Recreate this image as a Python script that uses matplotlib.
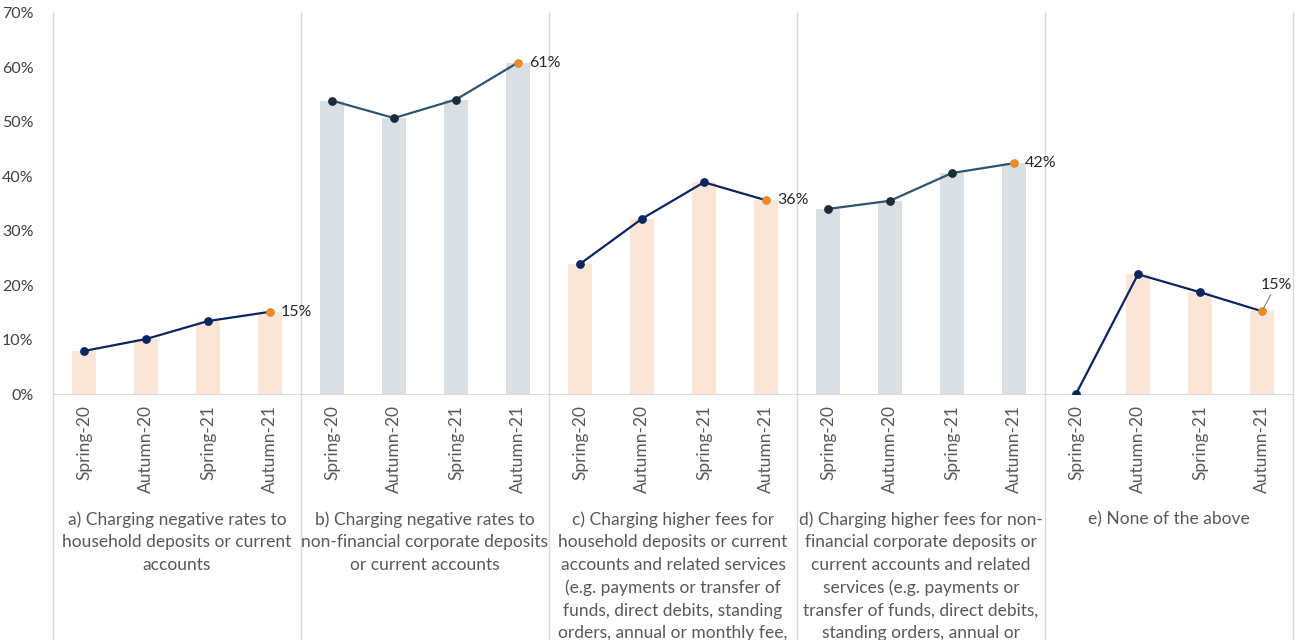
import matplotlib
matplotlib.use("Agg")
import matplotlib.pyplot as plt
import numpy as np

plt.rcParams['font.family'] = ['Lato', 'DejaVu Sans']

periods = ["Spring-20", "Autumn-20", "Spring-21", "Autumn-21"]

groups = [
    "a) Charging negative rates to\nhousehold deposits or current\naccounts",
    "b) Charging negative rates to\nnon-financial corporate deposits\nor current accounts",
    "c) Charging higher fees for\nhousehold deposits or current\naccounts and related services\n(e.g. payments or transfer of\nfunds, direct debits, standing\norders, annual or monthly fee,",
    "d) Charging higher fees for non-\nfinancial corporate deposits or\ncurrent accounts and related\nservices (e.g. payments or\ntransfer of funds, direct debits,\nstanding orders, annual or",
    "e) None of the above",
]

# percent of respondents, per group, per survey round
values = [
    [7.9, 10.1, 13.4, 15.1],
    [53.9, 50.7, 54.1, 60.9],
    [23.9, 32.2, 38.9, 35.6],
    [34.0, 35.5, 40.6, 42.4],
    [0.0, 22.0, 18.7, 15.2],
]
last_labels = ["15%", "61%", "36%", "42%", "15%"]

peach = "#FBE5D6"
grey = "#DADFE3"
navy = "#0B2560"
slate = "#2E5470"
slate_dot = "#1B2B38"
orange = "#E8892C"

fig = plt.figure(figsize=(13.01, 6.4), dpi=100)
ax = fig.add_axes([53 / 1301, 246 / 640, 1240 / 1301, 381 / 640])

n = len(periods)
for g, vals in enumerate(values):
    x = np.arange(n) + g * n
    odd = g % 2 == 1
    ax.bar(x, vals, width=0.4, color=grey if odd else peach, zorder=1)
    lc = slate if odd else navy
    dc = slate_dot if odd else navy
    ax.plot(x, vals, color=lc, lw=1.6, zorder=2)
    ax.scatter(x[:-1], vals[:-1], s=28, color=dc, zorder=3)
    ax.scatter(x[-1:], vals[-1:], s=28, color=orange, zorder=3)
    if g == 4:
        ax.annotate(last_labels[g], (x[-1], vals[-1]), xytext=(10, 14),
                    textcoords="offset points", fontsize=11.5, color="#262626",
                    ha="center", va="bottom",
                    arrowprops=dict(arrowstyle="-", color="#7F7F7F", lw=0.8,
                                    shrinkA=0, shrinkB=2))
    else:
        ax.annotate(last_labels[g], (x[-1], vals[-1]), xytext=(8, 0),
                    textcoords="offset points", fontsize=11.5, color="#262626",
                    ha="left", va="center")
    # group name under the tick labels
    ax.text(g * n + 1.5, -0.308, groups[g], transform=ax.get_xaxis_transform(),
            ha="center", va="top", fontsize=12.5, color="#595959",
            linespacing=1.5)

# separators running down through the labels
for b in np.arange(0, len(values) + 1) * n - 0.5:
    ax.plot([b, b], [1, -0.7], transform=ax.get_xaxis_transform(),
            color="#D9D9D9", lw=1, clip_on=False, zorder=0)

ax.set_xlim(-0.5, len(values) * n - 0.5)
ax.set_ylim(0, 70)
ax.set_yticks(np.arange(0, 71, 10))
ax.set_yticklabels([f"{v}%" for v in range(0, 71, 10)], fontsize=11.5, color="#404040")
ax.set_xticks(np.arange(len(values) * n))
ax.set_xticklabels(periods * len(values), rotation=90, fontsize=12.5, color="#595959")
ax.tick_params(length=0, pad=8)
ax.tick_params(axis="y", pad=14)
for s in ["top", "right", "left"]:
    ax.spines[s].set_visible(False)
ax.spines["bottom"].set_color("#D9D9D9")

fig.savefig("out.png", dpi=100)
